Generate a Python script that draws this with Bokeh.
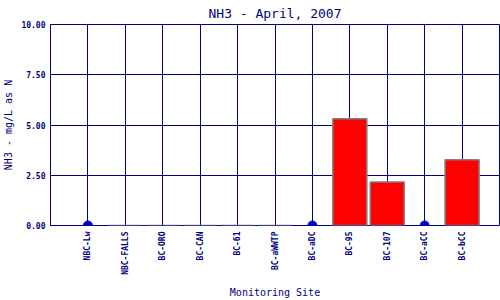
from bokeh.plotting import figure
from bokeh.models import ColumnDataSource, Range1d, FixedTicker, NumeralTickFormatter, FactorRange
from bokeh.embed import file_html
from bokeh.resources import INLINE
import math

sites = ["NBC-Lw", "NBC-FALLS", "BC-ORO", "BC-CAN", "BC-61", "BC-aWWTP",
         "BC-aDC", "BC-95", "BC-107", "BC-aCC", "BC-bCC"]
values = [float("nan"), 0.0, 0.0, 0.0, 0.0, 0.0, float("nan"), 5.31, 2.17, float("nan"), 3.27]
no_data_sites = ["NBC-Lw", "BC-aDC", "BC-aCC"]
y_ticks = [0, 2.5, 5, 7.5, 10]

NAVY = "#000080"
FONT = "DejaVu Sans Mono"

bar_sites = [s for s, v in zip(sites, values) if not math.isnan(v)]
bar_vals = [v for v in values if not math.isnan(v)]
src = ColumnDataSource(dict(site=bar_sites, val=bar_vals))
nd = ColumnDataSource(dict(site=no_data_sites, val=[0.0] * len(no_data_sites)))

p = figure(width=500, height=300, output_backend="svg", toolbar_location=None,
           x_range=FactorRange(*sites, range_padding=1 / 11),
           y_range=Range1d(0, 10),
           title="NH3 - April, 2007",
           min_border_left=50, min_border_right=1, min_border_top=24, min_border_bottom=75)

p.title.align = "center"
p.title.vertical_align = "top"
p.title.text_font = FONT
p.title.text_font_size = "13px"
p.title.text_font_style = "normal"
p.title.text_color = NAVY
p.title.standoff = 4

p.vbar(x="site", top="val", width=0.91, bottom=0, source=src,
       fill_color="#FF0000", line_color="#808080", line_width=1.5)
p.scatter(x="site", y="val", source=nd, size=9, color="#0000CC")

p.outline_line_color = NAVY
p.outline_line_width = 1
p.background_fill_color = "white"
p.border_fill_color = "white"

for g in (p.xgrid, p.ygrid):
    g.grid_line_color = NAVY
    g.grid_line_width = 1
    g.grid_line_alpha = 1.0

p.yaxis.ticker = FixedTicker(ticks=y_ticks)
p.yaxis.formatter = NumeralTickFormatter(format="0.00")

for ax in (p.xaxis, p.yaxis):
    ax.axis_line_color = NAVY
    ax.major_tick_line_color = None
    ax.minor_tick_line_color = None
    ax.major_tick_out = 0
    ax.major_tick_in = 0
    ax.major_label_text_font = FONT
    ax.major_label_text_font_size = "8px"
    ax.major_label_text_font_style = "bold"
    ax.major_label_text_color = NAVY
    ax.axis_label_text_font = FONT
    ax.axis_label_text_font_size = "10px"
    ax.axis_label_text_font_style = "normal"
    ax.axis_label_text_color = NAVY

p.xaxis.axis_line_color = None
p.xaxis.axis_label = "Monitoring Site"
p.yaxis.axis_label = "NH3 - mg/L as N"
p.xaxis.major_label_orientation = math.pi / 2
p.xaxis.major_label_standoff = 6
p.xaxis.axis_label_standoff = 9
p.yaxis.major_label_standoff = 5
p.yaxis.axis_label_standoff = 4

open("out.html", "w").write(file_html(p, INLINE))
